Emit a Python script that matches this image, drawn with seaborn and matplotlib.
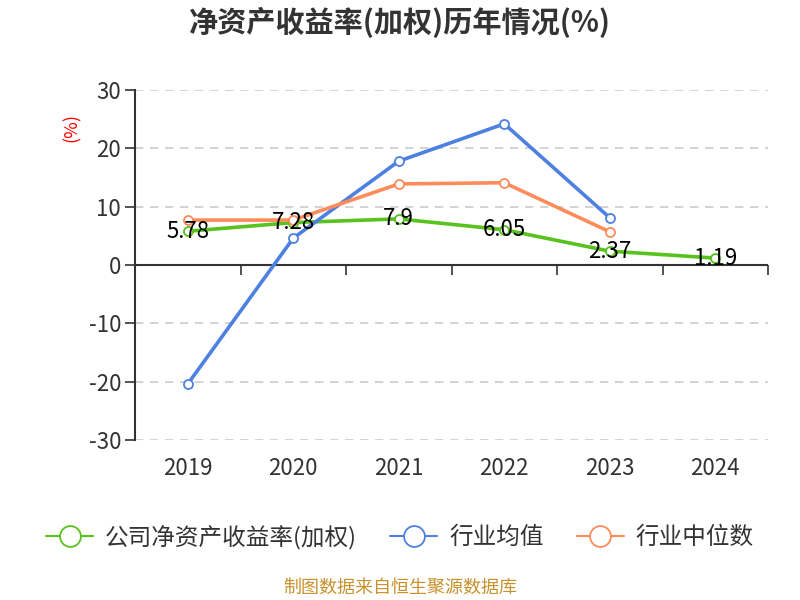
import numpy as np
import pandas as pd
import matplotlib
matplotlib.use("Agg")
import matplotlib.pyplot as plt
from matplotlib.lines import Line2D
import seaborn as sns

years = ["2019", "2020", "2021", "2022", "2023", "2024"]
company = [5.78, 7.28, 7.9, 6.05, 2.37, 1.19]
industry_avg = [-20.4, 4.6, 17.8, 24.2, 8.1, np.nan]
industry_median = [7.7, 7.7, 13.9, 14.1, 5.7, np.nan]

series_names = ["公司净资产收益率(加权)", "行业均值", "行业中位数"]
colors = ["#58c21e", "#4d80e0", "#fe8b5a"]

sns.set_theme(style="white")
plt.rcParams['font.family'] = ['Noto Sans CJK SC', 'DejaVu Sans']
plt.rcParams['axes.unicode_minus'] = False

fig = plt.figure(figsize=(8, 6), dpi=100)
ax = fig.add_axes([135/800, 1-440/600, (768-135)/800, (440-90)/600])

x = np.arange(len(years))
for vals, name, c in zip([company, industry_avg, industry_median], series_names, colors):
    df = pd.DataFrame({"x": x, "y": vals}).dropna()
    sns.lineplot(data=df, x="x", y="y", ax=ax, color=c, lw=2.6, marker="o",
                 markersize=6.5, markerfacecolor="white", markeredgecolor=c,
                 markeredgewidth=1.3, zorder=3, label=None)

for xi, v in zip(x, company):
    ax.text(xi, v, f"{v:g}", ha="center", va="center", fontsize=16,
            color="black", zorder=4)

ax.set_xlim(-0.5, len(years) - 0.5)
ax.set_ylim(-30, 30)
ax.set_yticks([-30, -20, -10, 0, 10, 20, 30])
for yv in [-30, -20, -10, 10, 20, 30]:
    ax.axhline(yv, color="#cccccc", lw=1.2, ls=(0, (5, 4)), zorder=1)
ax.axhline(0, color="#333333", lw=1.5, zorder=2)

ax.set_xticks(x)
ax.set_xticklabels(years)
ax.tick_params(axis="x", length=0, pad=12, labelsize=16, labelcolor="#333333")
ax.tick_params(axis="y", length=7, width=1.2, color="#333333", direction="out",
               labelsize=16, labelcolor="#333333", pad=3, left=True)
for s in ["top", "right", "bottom"]:
    ax.spines[s].set_visible(False)
ax.spines["left"].set_color("#333333")
ax.spines["left"].set_linewidth(1.5)
ax.set_xlabel("")
ax.set_ylabel("")

sec = ax.secondary_xaxis(0.5)
sec.set_xticks(np.arange(0.5, len(years), 1.0))
sec.tick_params(axis="x", direction="out", length=7, width=1.2, color="#333333",
                labelbottom=False, labeltop=False)
sec.spines["bottom"].set_visible(False)
sec.spines["top"].set_visible(False)
sec.xaxis.set_ticks_position("bottom")
sec.set_xticklabels([])

fig.text(72/800, 1-128/600, "(%)", color="red", rotation=90, fontsize=13,
         ha="center", va="center")
fig.text(400/800, 1-22/600, "净资产收益率(加权)历年情况(%)", fontsize=21,
         fontweight="bold", color="#333333", ha="center", va="center")

handles = [Line2D([0], [0], color=c, lw=1.5, marker="o", markersize=15,
                  markerfacecolor="white", markeredgecolor=c, markeredgewidth=1.3)
           for c in colors]
fig.legend(handles, series_names, loc="center", bbox_to_anchor=(400/800, 1-537/600),
           ncol=3, frameon=False, fontsize=17, handlelength=2.0, columnspacing=1.4,
           handletextpad=0.5, labelcolor="#333333")

fig.text(400/800, 1-588/600, "制图数据来自恒生聚源数据库", fontsize=13,
         color="#c8912b", ha="center", va="center")

fig.savefig("out.png", dpi=100)
